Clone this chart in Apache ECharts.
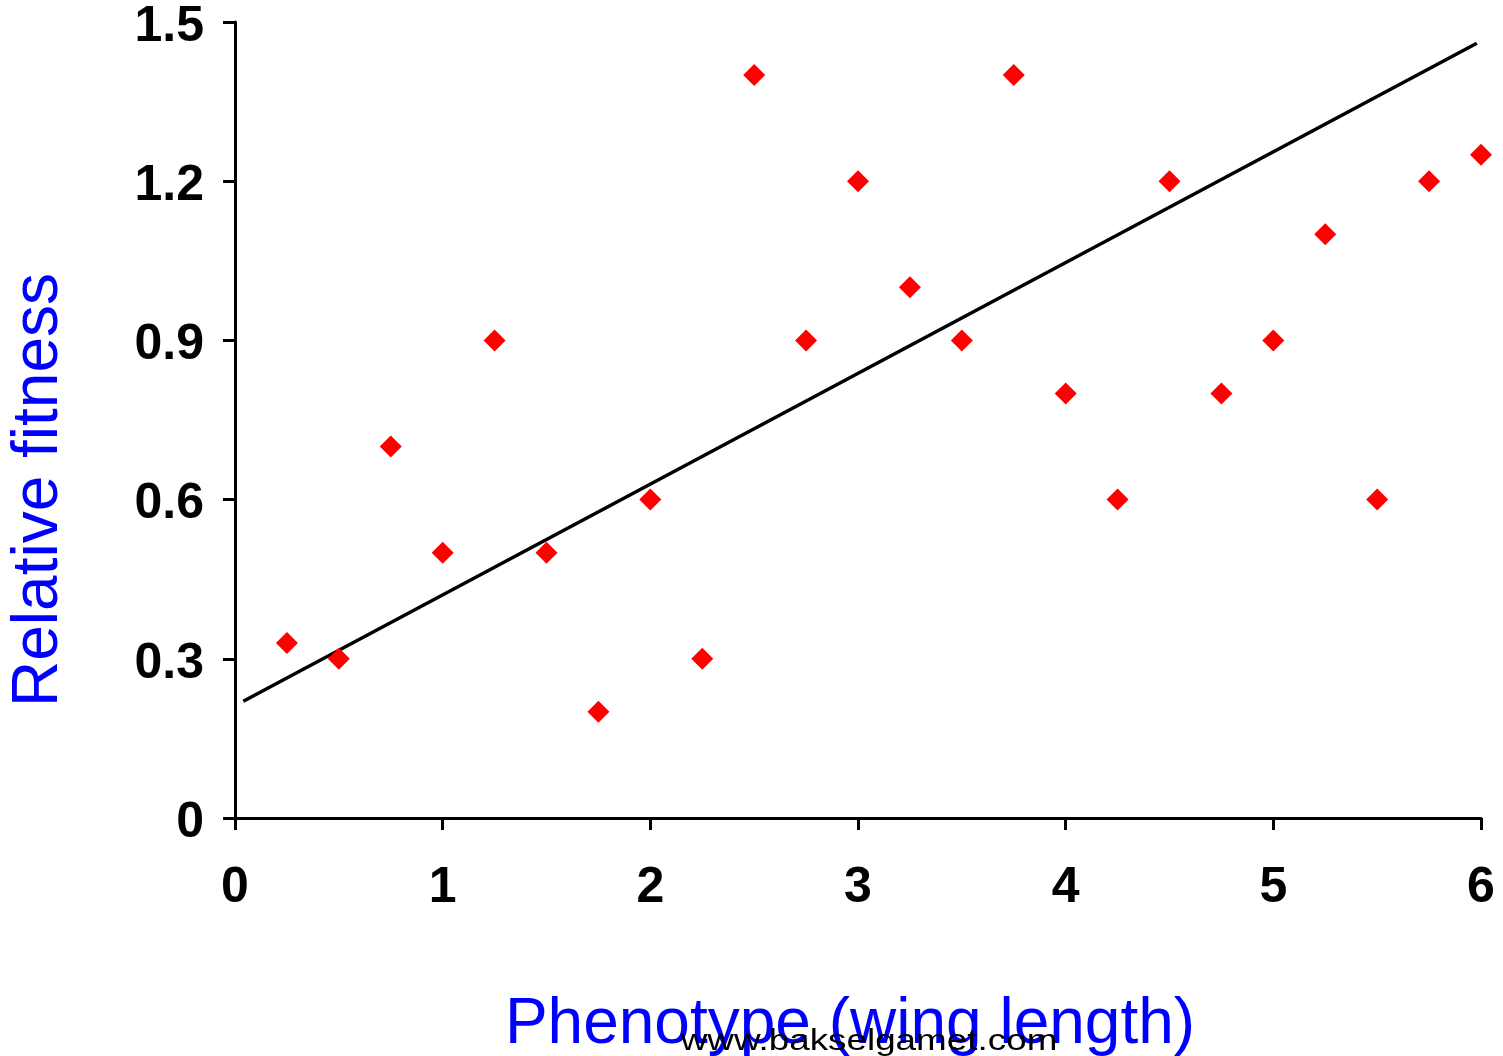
<!DOCTYPE html>
<html>
<head>
<meta charset="utf-8">
<script src="https://cdn.jsdelivr.net/npm/echarts@6/dist/echarts.min.js"></script>
<style>
html,body{margin:0;padding:0;background:#fff;}
#chart{width:1503px;height:1056px;}
</style>
</head>
<body>
<div id="chart"></div>
<script>
// Data
var phenotype = [0.25, 0.5, 0.75, 1.0, 1.25, 1.5, 1.75, 2.0, 2.25, 2.5, 2.75, 3.0,
                 3.25, 3.5, 3.75, 4.0, 4.25, 4.5, 4.75, 5.0, 5.25, 5.5, 5.75, 6.0];
var fitness   = [0.33, 0.30, 0.70, 0.50, 0.90, 0.50, 0.20, 0.60, 0.30, 1.40, 0.90, 1.20,
                 1.00, 0.90, 1.40, 0.80, 0.60, 1.20, 0.80, 0.90, 1.10, 0.60, 1.20, 1.25];
var trendX = [0.04, 5.98];
var trendY = [0.22, 1.46];
var xTitle = 'Phenotype (wing length)';
var yTitle = 'Relative fitness';
var watermark = 'www.bakselgamet.com';

var points = phenotype.map(function (x, i) { return [x, fitness[i]]; });
var trend = trendX.map(function (x, i) { return [x, trendY[i]]; });

var chart = echarts.init(document.getElementById('chart'), null, {renderer: 'canvas'});
var labelFont = {fontFamily: 'Liberation Sans, Arial, sans-serif', fontWeight: 'bold', fontSize: 50, color: '#000'};
chart.setOption({
  animation: false,
  backgroundColor: '#fff',
  grid: {left: 235, top: 22, right: 22, bottom: 238, containLabel: false},
  xAxis: {
    type: 'value', min: 0, max: 6, interval: 1,
    axisLine: {show: true, onZero: false, lineStyle: {color: '#000', width: 3}},
    axisTick: {show: true, inside: false, length: 12, lineStyle: {color: '#000', width: 3}},
    splitLine: {show: false},
    axisLabel: Object.assign({margin: 45}, labelFont)
  },
  yAxis: {
    type: 'value', min: 0, max: 1.5, interval: 0.3,
    axisLine: {show: true, onZero: false, lineStyle: {color: '#000', width: 3}},
    axisTick: {show: true, inside: false, length: 12, lineStyle: {color: '#000', width: 3}},
    splitLine: {show: false},
    axisLabel: Object.assign({margin: 31,
      formatter: function (v) { return '{a|' + (v === 0 ? '0' : v.toFixed(1)) + '}'; },
      rich: {a: {fontFamily: 'Liberation Sans, Arial, sans-serif', fontWeight: 'bold', fontSize: 50,
                 color: '#000', padding: [10, 0, 0, 0]}}}, labelFont)
  },
  series: [
    {
      type: 'line', data: trend, symbol: 'none', silent: true,
      lineStyle: {color: '#000', width: 3.5}, z: 2
    },
    {
      type: 'scatter', data: points, symbol: 'diamond', symbolSize: [22, 22],
      itemStyle: {color: '#ff0000', opacity: 1}, z: 3
    }
  ],
  graphic: [
    {
      type: 'text', x: 39, y: 490, rotation: Math.PI / 2,
      style: {text: yTitle, fill: '#0000ff', font: '64px "Liberation Sans", Arial, sans-serif',
              align: 'center', verticalAlign: 'middle'}
    },
    {
      type: 'text', x: 850, y: 1025,
      style: {text: xTitle, fill: '#0000ff', font: '64px "Liberation Sans", Arial, sans-serif',
              align: 'center', verticalAlign: 'middle'}
    },
    {
      type: 'text', x: 869, y: 1042, scaleX: 1.27, z: 100,
      style: {text: watermark, fill: '#000', font: '29px "Liberation Sans", Arial, sans-serif',
              align: 'center', verticalAlign: 'middle'}
    }
  ]
});
</script>
</body>
</html>
